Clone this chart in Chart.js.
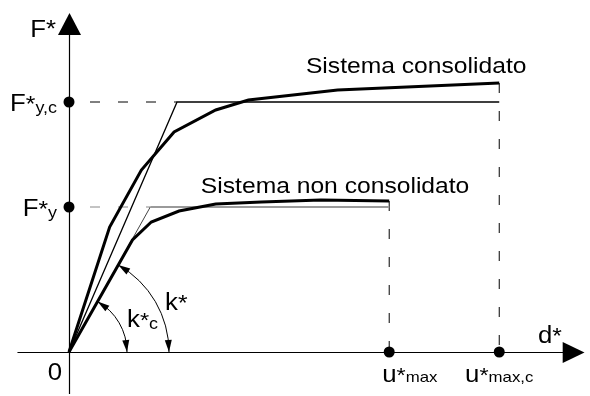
<!DOCTYPE html>
<html>
<head>
<meta charset="utf-8">
<script src="https://cdn.jsdelivr.net/npm/chart.js@4.4.0/dist/chart.umd.min.js"></script>
<style>
  html, body { margin: 0; padding: 0; background: #fff; }
  canvas { display: block; }
</style>
</head>
<body>
<canvas id="canvas" width="590" height="396"></canvas>
<script>
// capacity curves d* / F*
const dispCons  = [0, 41, 73, 106, 148, 181, 271, 434];
const forceCons = [0, 125, 182, 220, 242, 252, 262, 269];
const dispNon   = [0, 64, 83, 111, 148, 194, 254, 323];
const forceNon  = [0, 112, 130, 141, 148, 150, 152, 151];

// equivalent bilinear systems
const bilinDispCons  = [0, 109, 434];
const bilinForceCons = [0, 250, 250];
const bilinDispNon   = [0, 82, 323];
const bilinForceNon  = [0, 145, 145];

// marks on the axes
const yTickValues = [250, 145];
const yTickSubs   = ['y,c', 'y'];
const xTickValues = [323, 434];
const xTickSubs   = ['max', 'max,c'];

const curveLabels = ['Sistema consolidato', 'Sistema non consolidato'];

const pts = (xs, ys) => xs.map((x, i) => ({ x: x, y: ys[i] }));
const FONT = '"Liberation Sans", Arial, sans-serif';
const SX = 1.12; // the lettering in the figure is a bit wide

function dashed(a, b, color) {
  return {
    data: [a, b], showLine: true, borderColor: color, borderWidth: 1,
    borderDash: [10, 18], pointRadius: 0, clip: false
  };
}

const dotData = yTickValues.map(v => ({ x: 0, y: v }))
  .concat(xTickValues.map(v => ({ x: v, y: 0 })));

const datasets = [
  { data: dotData, showLine: false, pointRadius: 5.5, pointBackgroundColor: '#000',
    pointBorderWidth: 0, clip: false },
  { data: pts(dispCons, forceCons), showLine: true, borderColor: '#000', borderWidth: 3,
    pointRadius: 0, clip: false },
  { data: pts(dispNon, forceNon), showLine: true, borderColor: '#000', borderWidth: 3,
    pointRadius: 0, clip: false },
  { data: pts(bilinDispCons, bilinForceCons), showLine: true, borderColor: '#000', borderWidth: 1.3,
    pointRadius: 0, clip: false },
  { data: pts(bilinDispNon, bilinForceNon), showLine: true, borderColor: '#444', borderWidth: 1,
    pointRadius: 0, clip: false,
    segment: {
      borderColor: c => c.p0DataIndex === 1 ? '#9a9a9a' : '#444',
      borderWidth: c => c.p0DataIndex === 1 ? 2 : 1
    } },
  Object.assign(dashed({ x: 0, y: yTickValues[0] }, { x: bilinDispCons[1], y: yTickValues[0] }, '#000'), { borderDashOffset: 7 }),
  Object.assign(dashed({ x: 0, y: yTickValues[1] }, { x: bilinDispNon[1], y: yTickValues[1] }, '#888'), { borderDashOffset: 7 }),
  dashed({ x: xTickValues[0], y: forceNon[forceNon.length - 1] }, { x: xTickValues[0], y: 0 }, '#000'),
  dashed({ x: xTickValues[1], y: forceCons[forceCons.length - 1] }, { x: xTickValues[1], y: 0 }, '#000')
];

function txt(ctx, s, x, y, size, align) {
  ctx.save();
  ctx.font = size + 'px ' + FONT;
  const w = ctx.measureText(s).width * SX;
  const x0 = align === 'right' ? x - w : align === 'center' ? x - w / 2 : x;
  ctx.translate(x0, y);
  ctx.scale(SX, 1);
  ctx.fillText(s, 0, 0);
  ctx.restore();
  return w;
}

// parts: [text, size, dy]
function composite(ctx, parts, x, y, align) {
  let total = 0;
  parts.forEach(p => {
    ctx.font = p[1] + 'px ' + FONT;
    total += ctx.measureText(p[0]).width * SX;
  });
  let cx = align === 'right' ? x - total : align === 'center' ? x - total / 2 : x;
  parts.forEach(p => { cx += txt(ctx, p[0], cx, y + p[2], p[1], 'left'); });
}

function arrowHead(ctx, tx, ty, dx, dy, len, hw) {
  const n = Math.hypot(dx, dy); dx /= n; dy /= n;
  const bx = tx - dx * len, by = ty - dy * len;
  ctx.beginPath();
  ctx.moveTo(tx, ty);
  ctx.lineTo(bx - dy * hw, by + dx * hw);
  ctx.lineTo(bx + dy * hw, by - dx * hw);
  ctx.closePath();
  ctx.fill();
}

const axesPlugin = {
  id: 'axes',
  beforeDatasetsDraw(chart) {
    const ctx = chart.ctx, xs = chart.scales.x, ys = chart.scales.y;
    const ox = xs.getPixelForValue(0) + 0.5, oy = ys.getPixelForValue(0) + 0.5;
    ctx.save();
    ctx.strokeStyle = '#000';
    ctx.fillStyle = '#000';
    ctx.lineWidth = 1.2;
    ctx.beginPath();
    ctx.moveTo(xs.getPixelForValue(-52), oy);
    ctx.lineTo(xs.getPixelForValue(500), oy);
    ctx.moveTo(ox, ys.getPixelForValue(-42));
    ctx.lineTo(ox, ys.getPixelForValue(318));
    ctx.stroke();
    // arrow on d*
    const xt = xs.getPixelForValue(520), xb = xs.getPixelForValue(498);
    ctx.beginPath();
    ctx.moveTo(xt, oy); ctx.lineTo(xb, oy - 10.5); ctx.lineTo(xb, oy + 10.5);
    ctx.closePath(); ctx.fill();
    // arrow on F*
    const yt = ys.getPixelForValue(339), yb = ys.getPixelForValue(317);
    ctx.beginPath();
    ctx.moveTo(ox, yt); ctx.lineTo(ox - 11.5, yb); ctx.lineTo(ox + 11.5, yb);
    ctx.closePath(); ctx.fill();
    ctx.restore();
  },
  afterDatasetsDraw(chart) {
    const ctx = chart.ctx, xs = chart.scales.x, ys = chart.scales.y;
    const ox = xs.getPixelForValue(0), oy = ys.getPixelForValue(0);
    ctx.save();
    ctx.fillStyle = '#000';
    ctx.strokeStyle = '#000';
    ctx.lineWidth = 1;

    // stiffness arcs, ending on the initial branch of the curve
    const ang = Math.atan2(oy - ys.getPixelForValue(forceNon[1]), xs.getPixelForValue(dispNon[1]) - ox);
    [100, 58].forEach(r => {
      ctx.beginPath();
      ctx.arc(ox, oy, r, -ang, 0);
      ctx.stroke();
      const len = 12;
      const a0 = ang - len / r;
      const tx = ox + r * Math.cos(ang), ty = oy - r * Math.sin(ang);
      arrowHead(ctx, tx, ty, tx - (ox + r * Math.cos(a0)), ty - (oy - r * Math.sin(a0)), len, 3.5);
      const b0 = len / r;
      arrowHead(ctx, ox + r, oy, r - r * Math.cos(b0), r * Math.sin(b0), len, 3.5);
    });

    ctx.textBaseline = 'alphabetic';
    // axis titles
    composite(ctx, [['F', 23, 0], ['*', 23, 0]], ox - 13, ys.getPixelForValue(315), 'right');
    composite(ctx, [['d', 23, 0], ['*', 22, 0]], xs.getPixelForValue(473), oy - 9, 'left');
    txt(ctx, '0', ox - 14, oy + 28, 23, 'center');

    // y marks
    yTickValues.forEach((v, i) => {
      composite(ctx, [['F', 23, 0], ['*', 22, 0], [yTickSubs[i], 16, 2]],
        ox - 12, ys.getPixelForValue(v) + 9, 'right');
    });
    // x marks
    const xAlign = ['left', 'center'], xShift = [-7, 0];
    xTickValues.forEach((v, i) => {
      composite(ctx, [['u', 23, 0], ['*', 21, 0], [xTickSubs[i], 15, 0]],
        xs.getPixelForValue(v) + xShift[i], oy + 30, xAlign[i]);
    });

    // stiffness labels
    composite(ctx, [['k', 23, 0], ['*', 22, 0]], ox + 96, oy - 42, 'left');
    composite(ctx, [['k', 23, 0], ['*', 21, 0], ['c', 16, 2]], ox + 58, oy - 25, 'left');

    // curve names
    txt(ctx, curveLabels[0], xs.getPixelForValue(239), ys.getPixelForValue(279), 22, 'left');
    txt(ctx, curveLabels[1], xs.getPixelForValue(133), ys.getPixelForValue(159), 22, 'left');
    ctx.restore();
  }
};

const chart = new Chart(document.getElementById('canvas').getContext('2d'), {
  type: 'scatter',
  data: { datasets: datasets },
  options: {
    responsive: false,
    animation: false,
    devicePixelRatio: 1,
    layout: { padding: { left: 69, right: 1, top: 12, bottom: 44 } },
    scales: {
      x: { type: 'linear', min: 0, max: 520, display: false },
      y: { type: 'linear', min: 0, max: 340, display: false }
    },
    plugins: { legend: { display: false }, tooltip: { enabled: false } }
  },
  plugins: [axesPlugin]
});
</script>
</body>
</html>
